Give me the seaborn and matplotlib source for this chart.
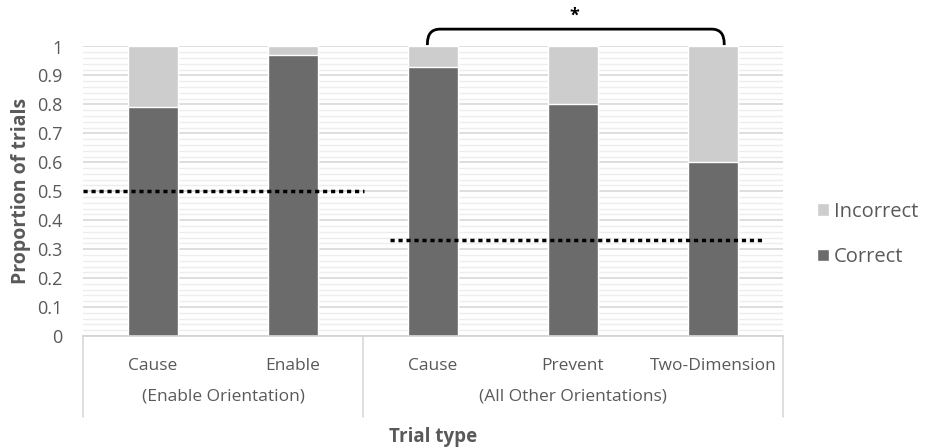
import matplotlib.pyplot as plt
import matplotlib.transforms as mtransforms
from matplotlib.path import Path
from matplotlib.patches import PathPatch
from matplotlib.ticker import MultipleLocator
import numpy as np
import pandas as pd
import seaborn as sns

# data
trial_types = ['Cause', 'Enable', 'Cause', 'Prevent', 'Two-Dimension']
groups = ['(Enable Orientation)', '(All Other Orientations)']
group_of_trial = [0, 0, 1, 1, 1]
correct = [0.79, 0.97, 0.93, 0.80, 0.60]
incorrect = [1 - c for c in correct]
chance_levels = [0.5, 0.33]

sns.set_theme(style='white')
plt.rcParams['font.family'] = ['Open Sans', 'DejaVu Sans']
txt = '#595959'
c_correct = '#6b6b6b'
c_incorrect = '#cdcdcd'

df = pd.DataFrame({
    'key': [f'{t}_{g}' for t, g in zip(trial_types, group_of_trial)],
    'trial': trial_types,
    'correct': correct,
    'total': np.array(correct) + np.array(incorrect),
})

fig = plt.figure(figsize=(9.29, 4.48), dpi=100)
ax = fig.add_axes([83 / 929, 1 - 336 / 448, 700 / 929, 289.5 / 448])

sns.barplot(data=df, x='key', y='total', color=c_incorrect, saturation=1,
            width=0.36, label='Incorrect', ax=ax)
sns.barplot(data=df, x='key', y='correct', color=c_correct, saturation=1,
            width=0.36, label='Correct', ax=ax)
handles, labels = ax.get_legend_handles_labels()
if ax.get_legend() is not None:
    ax.get_legend().remove()

ax.set_xlim(-0.5, 4.5)
ax.set_ylim(0, 1)
ax.yaxis.set_minor_locator(MultipleLocator(0.02))
ax.set_yticks(np.round(np.arange(0, 1.01, 0.1), 1))
ax.set_yticklabels(['0'] + [f'{v:.1f}' for v in np.arange(0.1, 0.95, 0.1)] + ['1'])
ax.grid(axis='y', which='major', color='#d4d4d4', lw=1.1)
ax.grid(axis='y', which='minor', color='#ededed', lw=1.0)
ax.set_axisbelow(True)
for s in ['left', 'right', 'top']:
    ax.spines[s].set_visible(False)
ax.spines['bottom'].set_color('#d4d4d4')
ax.tick_params(axis='y', which='both', length=0, pad=15, labelsize=13,
               labelcolor=txt)
ax.tick_params(axis='x', length=0, pad=16, labelsize=12.5, labelcolor=txt)
ax.set_xticks(range(len(trial_types)))
ax.set_xticklabels(trial_types)
ax.set_xlabel('')
ax.set_ylabel('Proportion of trials', fontsize=14, fontweight='bold',
              color=txt, labelpad=4)

# chance lines
ax.plot([-0.5, 1.51], [chance_levels[0]] * 2, color='black', lw=2.5,
        ls=(0, (1.2, 1.1)), zorder=5)
ax.plot([1.69, 4.35], [chance_levels[1]] * 2, color='black', lw=2.5,
        ls=(0, (1.2, 1.1)), zorder=5)

# group separators and group labels below the axis
trans = mtransforms.blended_transform_factory(ax.transData, ax.transAxes)
for xs in [-0.5, 1.5, 4.5]:
    ax.plot([xs, xs], [0, -0.28], color='#d4d4d4', lw=1.1, transform=trans,
            clip_on=False)
ax.text(0.5, -0.21, groups[0], transform=trans, ha='center', va='center',
        fontsize=12.5, color=txt)
ax.text(3.0, -0.21, groups[1], transform=trans, ha='center', va='center',
        fontsize=12.5, color=txt)
fig.text(433 / 929, 1 - 437 / 448, 'Trial type', ha='center', va='center',
         fontsize=13.5, fontweight='bold', color=txt)

# significance bracket
x0, x1, yb, yt, rx, ry = 1.96, 4.08, 1.005, 1.06, 0.09, 0.05
verts = [(x0, yb), (x0, yt - ry), (x0, yt), (x0 + rx, yt), (x1 - rx, yt),
         (x1, yt), (x1, yt - ry), (x1, yb)]
codes = [Path.MOVETO, Path.LINETO, Path.CURVE3, Path.CURVE3, Path.LINETO,
         Path.CURVE3, Path.CURVE3, Path.LINETO]
ax.add_patch(PathPatch(Path(verts, codes), fill=False, lw=2, color='black',
                       clip_on=False))
ax.text(3.01, 1.105, '*', ha='center', va='center', fontsize=13,
        fontweight='bold', color='black', clip_on=False)

fig.legend(handles, labels, loc='center left',
           bbox_to_anchor=(799 / 929, 1 - 234.5 / 448), frameon=False,
           fontsize=14.5, labelcolor=txt, handlelength=0.6, handleheight=0.6,
           handletextpad=0.25, labelspacing=1.25)

fig.savefig('out.png', dpi=100)
